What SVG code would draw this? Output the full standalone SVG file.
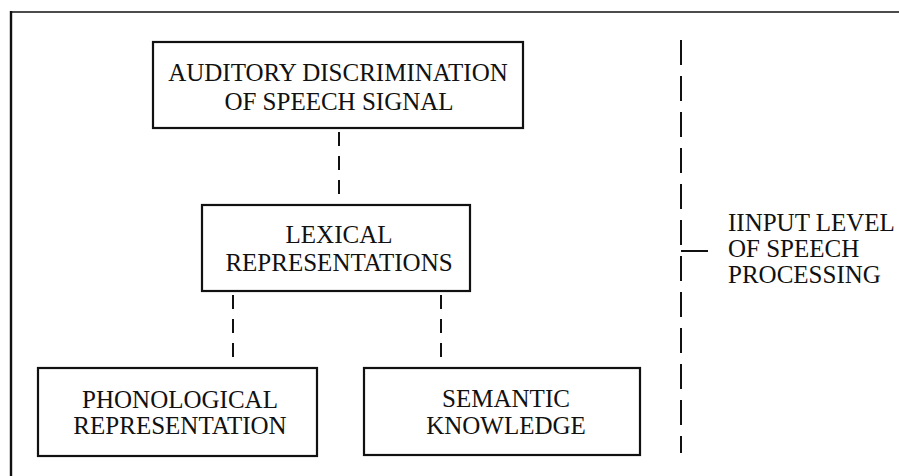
<svg xmlns="http://www.w3.org/2000/svg" width="899" height="476" viewBox="0 0 899 476">
<style>
.box{fill:#fff;stroke:#111;stroke-width:2.2}
.t{font-family:"Liberation Serif","Times New Roman",serif;font-size:25px;fill:#111;text-anchor:middle}
.tl{font-family:"Liberation Serif","Times New Roman",serif;font-size:25px;fill:#111}
.dash{stroke:#111;stroke-width:2;fill:none;stroke-dasharray:14 10}
.ldash{stroke:#111;stroke-width:2;fill:none;stroke-dasharray:25 11}
.frame{stroke:#111;fill:none}
</style>
<rect width="899" height="476" fill="#fff"/>
<g id="frame">
<line class="frame" x1="10" y1="12" x2="899" y2="12" stroke-width="1.6"/>
<line class="frame" x1="11" y1="11" x2="11" y2="476" stroke-width="2.4"/>
</g>
<g id="connectors">
<line class="dash" x1="339" y1="128" x2="339" y2="205" stroke-dashoffset="-4"/>
<line class="dash" x1="233" y1="291" x2="233" y2="368" stroke-dashoffset="-4"/>
<line class="dash" x1="441" y1="291" x2="441" y2="368" stroke-dashoffset="-4"/>
</g>
<g id="node-auditory">
<rect class="box" x="153" y="42" width="370" height="86"/>
<text class="t" x="338" y="81">AUDITORY DISCRIMINATION</text>
<text class="t" x="339" y="110">OF SPEECH SIGNAL</text>
</g>
<g id="node-lexical">
<rect class="box" x="202" y="205" width="268" height="86"/>
<text class="t" x="339" y="243">LEXICAL</text>
<text class="t" x="339" y="271">REPRESENTATIONS</text>
</g>
<g id="node-phonological">
<rect class="box" x="38" y="368" width="279" height="88"/>
<text class="t" x="180" y="408">PHONOLOGICAL</text>
<text class="t" x="180" y="434">REPRESENTATION</text>
</g>
<g id="node-semantic">
<rect class="box" x="364" y="368" width="276" height="87"/>
<text class="t" x="506" y="407">SEMANTIC</text>
<text class="t" x="506" y="434">KNOWLEDGE</text>
</g>
<g id="level-bracket">
<line class="ldash" x1="681" y1="40" x2="681" y2="453"/>
<line x1="681" y1="251" x2="708" y2="251" stroke="#111" stroke-width="2"/>
<text class="tl" x="728" y="231">IINPUT LEVEL</text>
<text class="tl" x="728" y="257">OF SPEECH</text>
<text class="tl" x="728" y="283">PROCESSING</text>
</g>
</svg>
